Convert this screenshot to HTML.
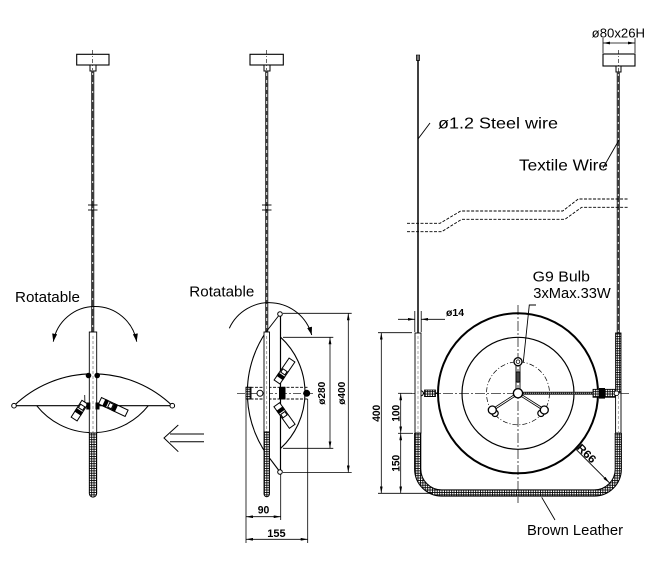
<!DOCTYPE html>
<html><head><meta charset="utf-8"><style>
html,body{margin:0;padding:0;background:#fff;}
svg{display:block;}
text{font-family:"Liberation Sans",sans-serif;fill:#000;}
</style></head><body>
<svg width="660" height="577" viewBox="0 0 660 577" xmlns="http://www.w3.org/2000/svg">
<defs>
<pattern id="h" patternUnits="userSpaceOnUse" width="2.4" height="2.4">
<rect width="2.4" height="2.4" fill="#fff"/>
<path d="M0,0.4H2.4M0.4,0V2.4" stroke="#000" stroke-width="0.9"/>
</pattern>
<marker id="ar" viewBox="0 0 10 10" refX="10" refY="5" markerWidth="7" markerHeight="2.8" markerUnits="userSpaceOnUse" orient="auto-start-reverse" preserveAspectRatio="none"><path d="M0,0L10,5L0,10z" fill="#000"/></marker>
<marker id="ar2" viewBox="0 0 10 10" refX="10" refY="5" markerWidth="8" markerHeight="5" markerUnits="userSpaceOnUse" orient="auto-start-reverse" preserveAspectRatio="none"><path d="M0,0L10,5L0,10z" fill="#000"/></marker>
</defs>
<rect width="660" height="577" fill="#fff"/>

<!-- ================= LEFT FIGURE ================= -->
<g stroke="#000" fill="none" stroke-width="1">
<rect x="76.7" y="54.3" width="32.3" height="10.7" fill="#fff" stroke-width="1.1"/>
<rect x="90" y="65" width="6" height="6" fill="#fff"/>
<line x1="92.7" y1="50" x2="92.7" y2="70" stroke-width="0.6" stroke-dasharray="4 2 1 2"/>
<line x1="92.7" y1="71" x2="92.7" y2="332" stroke="#3a3a3a" stroke-width="3.2"/>
<line x1="92.7" y1="73" x2="92.7" y2="332" stroke="#fff" stroke-width="0.9" stroke-dasharray="2 7"/>
<line x1="88" y1="205" x2="97.5" y2="205" stroke-width="0.9"/>
<line x1="88" y1="210" x2="97.5" y2="210" stroke-width="0.9"/>
<!-- rotation arc -->
<path d="M53.3,341.7 A42.3,42.3 0 0 1 136.7,341.7" stroke-width="1" marker-start="url(#ar2)" marker-end="url(#ar2)"/>
<!-- shade -->
<path d="M14,405.7 A114.3,114.3 0 0 1 172.3,405.7 Z" stroke-width="1.1"/>
<path d="M36.7,405.7 A71.2,71.2 0 0 0 148.3,405.7" stroke-width="1.1"/>
<circle cx="14" cy="405.7" r="2.3" fill="#fff"/>
<circle cx="172.3" cy="405.7" r="2.3" fill="#fff"/>
<!-- bulbs -->
<g transform="translate(79.5,410.6) rotate(-57.5)">
<rect x="-10" y="-3.5" width="20" height="7" fill="#fff"/>
<rect x="-3" y="-3.5" width="3" height="7" fill="#000"/>
<rect x="2" y="-2.5" width="4" height="5" fill="#fff"/>
<line x1="10" y1="0" x2="16" y2="-4" stroke-width="0.8"/>
</g>
<g transform="translate(113.3,407) rotate(25.3)">
<rect x="-14.7" y="-3.5" width="29.4" height="7" fill="#fff"/>
<rect x="-10" y="-3.5" width="3" height="7" fill="#000"/>
<rect x="-5" y="-2.5" width="4" height="5" fill="#fff"/>
<rect x="0" y="-3.5" width="3" height="7" fill="#000"/>
</g>
<!-- tube -->
<rect x="89.3" y="332" width="7.4" height="101" fill="#fff" stroke-width="0.9"/>
<line x1="93" y1="336" x2="93" y2="433" stroke="#777" stroke-width="0.7" stroke-dasharray="3 2"/>
<path d="M89.3,433 V493.5 a3.7,3.7 0 0 0 7.4,0 V433 Z" fill="url(#h)" stroke-width="0.9"/>
<circle cx="88.5" cy="375.5" r="2.3" fill="#000"/>
<circle cx="97.2" cy="375.5" r="2.3" fill="#000"/>
<rect x="86.8" y="403" width="3" height="6" fill="#000"/>
<rect x="96" y="403" width="3" height="6" fill="#000"/>
</g>
<text x="15" y="302" font-size="15" textLength="65" lengthAdjust="spacingAndGlyphs">Rotatable</text>

<!-- hollow arrow -->
<g stroke="#000" fill="none" stroke-width="1">
<polyline points="178.3,425 164,438 178.3,451.7"/>
<line x1="170" y1="434" x2="204" y2="434"/>
<line x1="170" y1="441.7" x2="204" y2="441.7"/>
</g>

<!-- ================= MIDDLE FIGURE ================= -->
<g stroke="#000" fill="none" stroke-width="1">
<rect x="250" y="54.3" width="33.3" height="10.7" fill="#fff" stroke-width="1.1"/>
<rect x="264" y="65" width="6" height="6" fill="#fff"/>
<line x1="266.7" y1="50" x2="266.7" y2="70" stroke-width="0.6" stroke-dasharray="4 2 1 2"/>
<line x1="266.7" y1="71" x2="266.7" y2="332" stroke="#3a3a3a" stroke-width="3.2"/>
<line x1="266.7" y1="73" x2="266.7" y2="332" stroke="#fff" stroke-width="0.9" stroke-dasharray="3 4"/>
<line x1="262" y1="205" x2="271.5" y2="205" stroke-width="0.9"/>
<line x1="262" y1="210" x2="271.5" y2="210" stroke-width="0.9"/>
<!-- rotation arc -->
<path d="M229.3,328.3 A44,44 0 0 1 311.7,335" marker-end="url(#ar2)"/>
<!-- shade side view -->
<line x1="280.5" y1="314" x2="280.5" y2="472" stroke-width="1.2"/>
<line x1="280" y1="314" x2="266" y2="332"/>
<path d="M266,332 A108,108 0 0 0 272.5,462 L280,472" stroke-width="1.1"/>
<path d="M280.7,337.3 A75.5,75.5 0 0 1 280.7,448.3" stroke-width="1.1"/>
<circle cx="280" cy="314" r="2.3" fill="#fff"/>
<circle cx="280" cy="472" r="2.3" fill="#fff"/>
<!-- hub -->
<line x1="246" y1="387.3" x2="308" y2="387.3" stroke-dasharray="3 1.5" stroke-width="0.9"/>
<line x1="246" y1="399" x2="308" y2="399" stroke-dasharray="3 1.5" stroke-width="0.9"/>
<line x1="237" y1="393.3" x2="313" y2="393.3" stroke-width="0.6" stroke-dasharray="8 2 2 2"/>
<rect x="246" y="387.3" width="5" height="11.7" fill="url(#h)"/>
<rect x="279.5" y="387.3" width="5.5" height="11.7" fill="#000"/>
<circle cx="306.7" cy="393.3" r="3" fill="#000"/>
<circle cx="260" cy="393.3" r="3" fill="#fff"/>
<!-- bulbs -->
<g transform="translate(284.5,371) rotate(-55.7)">
<rect x="-13.3" y="-3.5" width="26.6" height="7" fill="#fff"/>
<rect x="-8" y="-3.5" width="3" height="7" fill="#000"/>
<rect x="-3" y="-2.5" width="4" height="5" fill="#fff"/>
</g>
<g transform="translate(284.5,415.5) rotate(54.5)">
<rect x="-13.3" y="-3.5" width="26.6" height="7" fill="#fff"/>
<rect x="-8" y="-3.5" width="3" height="7" fill="#000"/>
<rect x="-3" y="-2.5" width="4" height="5" fill="#fff"/>
</g>
<!-- tube -->
<rect x="264" y="332" width="5.5" height="100" fill="#fff" stroke-width="0.9"/>
<line x1="266.7" y1="336" x2="266.7" y2="432" stroke="#777" stroke-width="0.7" stroke-dasharray="3 2"/>
<path d="M264,432 V494 a2.75,2.75 0 0 0 5.5,0 V432 Z" fill="url(#h)" stroke-width="0.9"/>
<!-- dims -->
<line x1="246" y1="396" x2="246" y2="543" stroke-width="0.8"/>
<line x1="280.7" y1="474" x2="280.7" y2="520" stroke-width="0.8"/>
<line x1="307.7" y1="399" x2="307.7" y2="543" stroke-width="0.8"/>
<line x1="246" y1="516.7" x2="280.7" y2="516.7" stroke-width="0.8" marker-start="url(#ar)" marker-end="url(#ar)"/>
<line x1="246" y1="539.3" x2="307.7" y2="539.3" stroke-width="0.8" marker-start="url(#ar)" marker-end="url(#ar)"/>
<line x1="283" y1="337.3" x2="333.3" y2="337.3" stroke-width="0.8"/>
<line x1="283" y1="448.3" x2="333.3" y2="448.3" stroke-width="0.8"/>
<line x1="330" y1="337.3" x2="330" y2="448.3" stroke-width="0.8" marker-start="url(#ar)" marker-end="url(#ar)"/>
<line x1="283" y1="313.3" x2="351.7" y2="313.3" stroke-width="0.8"/>
<line x1="283" y1="472.5" x2="351.7" y2="472.5" stroke-width="0.8"/>
<line x1="348.3" y1="313.3" x2="348.3" y2="472.5" stroke-width="0.8" marker-start="url(#ar)" marker-end="url(#ar)"/>
</g>
<text x="189.3" y="296.5" font-size="15" textLength="65" lengthAdjust="spacingAndGlyphs">Rotatable</text>
<text x="257.7" y="513.5" font-size="11" font-weight="bold" textLength="11.6" lengthAdjust="spacingAndGlyphs">90</text>
<text x="267.3" y="537" font-size="11" font-weight="bold" textLength="18.4" lengthAdjust="spacingAndGlyphs">155</text>
<text transform="translate(325.2,393.3) rotate(-90)" text-anchor="middle" font-size="10.5" font-weight="bold" textLength="23" lengthAdjust="spacingAndGlyphs">ø280</text>
<text transform="translate(345.2,393.3) rotate(-90)" text-anchor="middle" font-size="10.5" font-weight="bold" textLength="23" lengthAdjust="spacingAndGlyphs">ø400</text>

<!-- ================= RIGHT FIGURE ================= -->
<g stroke="#000" fill="none" stroke-width="1">
<!-- steel wire -->
<rect x="416.3" y="55" width="3.4" height="5.5" fill="#777" stroke-width="0.6"/>
<line x1="418" y1="60" x2="418" y2="333" stroke-width="1.5"/>
<!-- canopy right -->
<rect x="603" y="54" width="32" height="12" fill="#fff" stroke-width="1.1"/>
<rect x="616" y="66" width="5" height="6" fill="#fff"/>
<line x1="618.3" y1="50" x2="618.3" y2="72" stroke-width="0.6" stroke-dasharray="4 2 1 2"/>
<line x1="603" y1="38" x2="603" y2="53" stroke-width="0.8"/>
<line x1="635" y1="38" x2="635" y2="53" stroke-width="0.8"/>
<line x1="603" y1="43" x2="635" y2="43" stroke-width="0.8" marker-start="url(#ar)" marker-end="url(#ar)"/>
<!-- textile wire -->
<line x1="618.3" y1="72" x2="618.3" y2="333" stroke="#3a3a3a" stroke-width="3.2"/>
<line x1="618.3" y1="74" x2="618.3" y2="333" stroke="#fff" stroke-width="0.9" stroke-dasharray="2 6"/>
<!-- leaders -->
<line x1="418" y1="139" x2="430" y2="123" stroke-width="0.9"/>
<line x1="619" y1="140" x2="603" y2="168" stroke-width="0.9"/>
<!-- break lines -->
<polyline points="407,223.3 440,223.3 460.7,211 562.7,211 578.3,199 628,199" stroke-width="0.9" stroke-dasharray="3 1.5"/>
<polyline points="407,231.7 441.7,231.7 461.7,219.3 565,219.3 581.7,207.3 628,207.3" stroke-width="0.9" stroke-dasharray="3 1.5"/>

<!-- circles -->
<circle cx="518" cy="393.3" r="80" stroke-width="2"/>
<circle cx="518" cy="393.3" r="56" stroke-width="1.2"/>
<circle cx="518" cy="393.3" r="31.5" stroke-width="0.7" stroke-dasharray="5 2 1 2"/>
<line x1="411" y1="393.3" x2="630" y2="393.3" stroke-width="0.7" stroke-dasharray="10 2 2 2"/>
<line x1="518" y1="305" x2="518" y2="503" stroke-width="0.7" stroke-dasharray="10 2 2 2"/>

<!-- rods -->
<line x1="522" y1="393.3" x2="616" y2="393.3" stroke="#222" stroke-width="3"/>
<line x1="522" y1="393.3" x2="616" y2="393.3" stroke="#aaa" stroke-width="1" stroke-dasharray="1 1"/>
<rect x="593" y="389.3" width="22" height="8" fill="url(#h)" stroke-width="0.8"/>
<rect x="599.5" y="388.5" width="5" height="9.6" fill="#000"/>
<line x1="420" y1="393.3" x2="438" y2="393.3" stroke-width="1.5"/>
<rect x="424.5" y="390" width="11" height="6.6" fill="url(#h)" stroke-width="0.8"/>
<circle cx="420.8" cy="393.3" r="2.6" fill="#fff"/>

<!-- arms -->
<g stroke-width="0.9">
<line x1="516" y1="393" x2="516" y2="364"/>
<line x1="520" y1="393" x2="520" y2="364"/>
<rect x="516" y="372" width="4" height="10" fill="#444"/>
<line x1="518" y1="393.3" x2="492.3" y2="410" stroke-width="2.6"/>
<line x1="518" y1="393.3" x2="492.3" y2="410" stroke="#fff" stroke-width="1"/>
<line x1="518" y1="393.3" x2="544.3" y2="410" stroke-width="2.6"/>
<line x1="518" y1="393.3" x2="544.3" y2="410" stroke="#fff" stroke-width="1"/>
<circle cx="518" cy="361.7" r="4" fill="#fff" stroke-width="1.3"/>
<circle cx="518" cy="361.7" r="1.8" fill="#fff" stroke-width="0.8"/>
<circle cx="495" cy="413.3" r="3.2" fill="#fff" stroke-width="1.2"/>
<circle cx="492.3" cy="410" r="4" fill="#fff" stroke-width="1.3"/>
<circle cx="541" cy="413.3" r="3.2" fill="#fff" stroke-width="1.2"/>
<circle cx="544.3" cy="410" r="4" fill="#fff" stroke-width="1.3"/>
<circle cx="518" cy="393.3" r="4.6" fill="#fff" stroke-width="1.4"/>
</g>
<polyline points="523.3,362 529.3,305 536,305" stroke-width="0.9"/>

<!-- tubes -->
<rect x="415" y="333" width="6" height="100" fill="#fff" stroke-width="0.9"/>
<line x1="418" y1="336" x2="418" y2="433" stroke="#888" stroke-width="0.7" stroke-dasharray="3 2"/>
<rect x="615.6" y="333" width="5.4" height="60" fill="url(#h)" stroke-width="0.9"/>
<rect x="615.6" y="393" width="5.4" height="40" fill="#fff" stroke-width="0.9"/>
<line x1="618.3" y1="396" x2="618.3" y2="433" stroke="#888" stroke-width="0.7" stroke-dasharray="3 2"/>
<circle cx="616.5" cy="393.3" r="2.3" fill="#fff" stroke-width="0.8"/>

<!-- leather U -->
<path d="M417.7,433 L417.7,469 A24,24 0 0 0 441.7,493 L594.3,493 A24,24 0 0 0 618.3,469 L618.3,433" stroke="#000" stroke-width="7.2"/>
<path d="M417.7,433.6 L417.7,469 A24,24 0 0 0 441.7,493 L594.3,493 A24,24 0 0 0 618.3,469 L618.3,433.6" stroke="url(#h)" stroke-width="5.2"/>

<!-- R66 leader -->
<line x1="575" y1="448.3" x2="609.3" y2="482.7" stroke-width="0.9" marker-end="url(#ar)"/>
<!-- Brown leather leader -->
<line x1="541.7" y1="497.3" x2="555" y2="520" stroke-width="0.9"/>

<!-- ø14 dim -->
<line x1="414.8" y1="311" x2="414.8" y2="332" stroke-width="0.8"/>
<line x1="421.2" y1="311" x2="421.2" y2="332" stroke-width="0.8"/>
<line x1="398" y1="319.3" x2="414.8" y2="319.3" stroke-width="0.8" marker-end="url(#ar)"/>
<line x1="445" y1="319.3" x2="421.2" y2="319.3" stroke-width="0.8" marker-end="url(#ar)"/>

<!-- left dims -->
<line x1="378" y1="332.7" x2="412" y2="332.7" stroke-width="0.8"/>
<line x1="378" y1="493.3" x2="432" y2="493.3" stroke-width="0.8"/>
<line x1="398" y1="393.3" x2="412" y2="393.3" stroke-width="0.8"/>
<line x1="398" y1="433.3" x2="413" y2="433.3" stroke-width="0.8"/>
<line x1="381.3" y1="332.7" x2="381.3" y2="493.3" stroke-width="0.8" marker-start="url(#ar)" marker-end="url(#ar)"/>
<line x1="400.7" y1="393.3" x2="400.7" y2="433.3" stroke-width="0.8" marker-start="url(#ar)" marker-end="url(#ar)"/>
<line x1="400.7" y1="433.3" x2="400.7" y2="493.3" stroke-width="0.8" marker-start="url(#ar)" marker-end="url(#ar)"/>
</g>

<text x="591.7" y="37.7" font-size="13" textLength="53.3" lengthAdjust="spacingAndGlyphs">ø80x26H</text>
<text x="438" y="128.3" font-size="16" textLength="120" lengthAdjust="spacingAndGlyphs">ø1.2  Steel  wire</text>
<text x="519" y="170.5" font-size="16" textLength="89" lengthAdjust="spacingAndGlyphs">Textile  Wire</text>
<text x="532.7" y="281.7" font-size="15" textLength="57.3" lengthAdjust="spacingAndGlyphs">G9  Bulb</text>
<text x="533.3" y="298" font-size="15" textLength="77.5" lengthAdjust="spacingAndGlyphs">3xMax.33W</text>
<text x="446" y="316" font-size="10.5" font-weight="bold" textLength="18" lengthAdjust="spacingAndGlyphs">ø14</text>
<text x="527" y="535" font-size="15" textLength="96" lengthAdjust="spacingAndGlyphs">Brown  Leather</text>
<text transform="translate(583.9,456.1) rotate(45)" text-anchor="middle" font-size="11" font-weight="bold" textLength="22" lengthAdjust="spacingAndGlyphs">R66</text>
<text transform="translate(380,413.3) rotate(-90)" text-anchor="middle" font-size="11" font-weight="bold" textLength="17" lengthAdjust="spacingAndGlyphs">400</text>
<text transform="translate(399.5,413.3) rotate(-90)" text-anchor="middle" font-size="11" font-weight="bold" textLength="17" lengthAdjust="spacingAndGlyphs">100</text>
<text transform="translate(399.5,463.3) rotate(-90)" text-anchor="middle" font-size="11" font-weight="bold" textLength="17" lengthAdjust="spacingAndGlyphs">150</text>
</svg>
</body></html>
